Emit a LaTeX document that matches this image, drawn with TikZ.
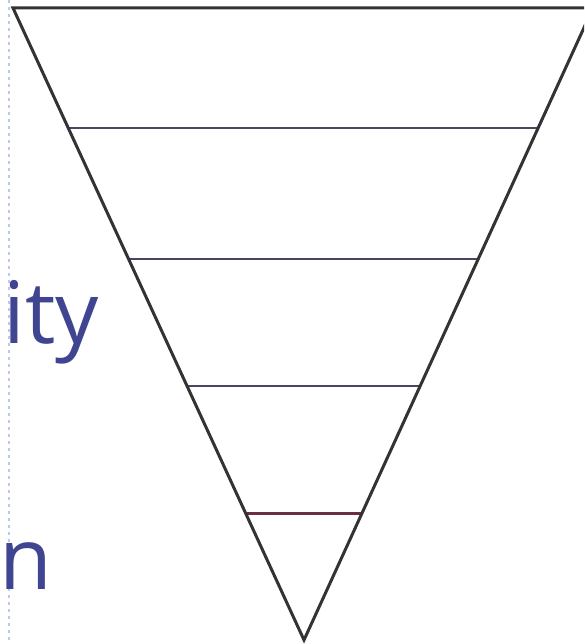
\documentclass[tikz,border=0pt]{standalone}
\usepackage{fontspec}
\setmainfont{Open Sans}
\usepackage{xcolor}
\usepackage{tikz}
\usetikzlibrary{calc}

\definecolor{labelblue}{HTML}{3F4590}
\definecolor{edgegray}{HTML}{333333}
\definecolor{tierline}{HTML}{4B4565}
\definecolor{tipline}{HTML}{6B2E45}
\definecolor{guideblue}{HTML}{BCC8F0}

\begin{document}
\begin{tikzpicture}[
    x=1pt, y=-1pt,
    edge/.style={draw=edgegray, line width=3pt, line join=miter},
    tier/.style={draw=tierline, line width=2.8pt},
    tiptier/.style={draw=tipline, line width=2.8pt},
    guide/.style={draw=guideblue, line width=1.2pt, dash pattern=on 3pt off 4pt},
    label/.style={anchor=base east, inner sep=0pt, text=labelblue, font=\fontsize{86}{86}\selectfont}
  ]
    \useasboundingbox (0,0) rectangle (584,644);
    \clip (0,0) rectangle (584,644);
    \fill[white] (0,0) rectangle (584,644);

    % guide line on the left
    \coordinate (gtop) at (9,0);
    \coordinate (gbot) at (9,644);
    \draw[guide] (gtop) -- (gbot);

    % labels, cut by the left border
    \node[label] (upper) at (99,343) {nity};
    \node[label] (lower) at (52,589) {an};

    % corners of the funnel
    \coordinate (tl) at (13,8);
    \coordinate (tr) at (593,8);
    \coordinate (apex) at (304,640);

    % tiers
    \draw[tier] ($(tl)!0.19!(apex)$) -- ($(tr)!0.19!(apex)$);
    \draw[tier] ($(tl)!0.397!(apex)$) -- ($(tr)!0.397!(apex)$);
    \draw[tier] ($(tl)!0.598!(apex)$) -- ($(tr)!0.598!(apex)$);
    \draw[tiptier] ($(tl)!0.80!(apex)$) -- ($(tr)!0.80!(apex)$);

    \draw[edge] (tl) -- (tr) -- (apex) -- cycle;
  \end{tikzpicture}
\end{document}
